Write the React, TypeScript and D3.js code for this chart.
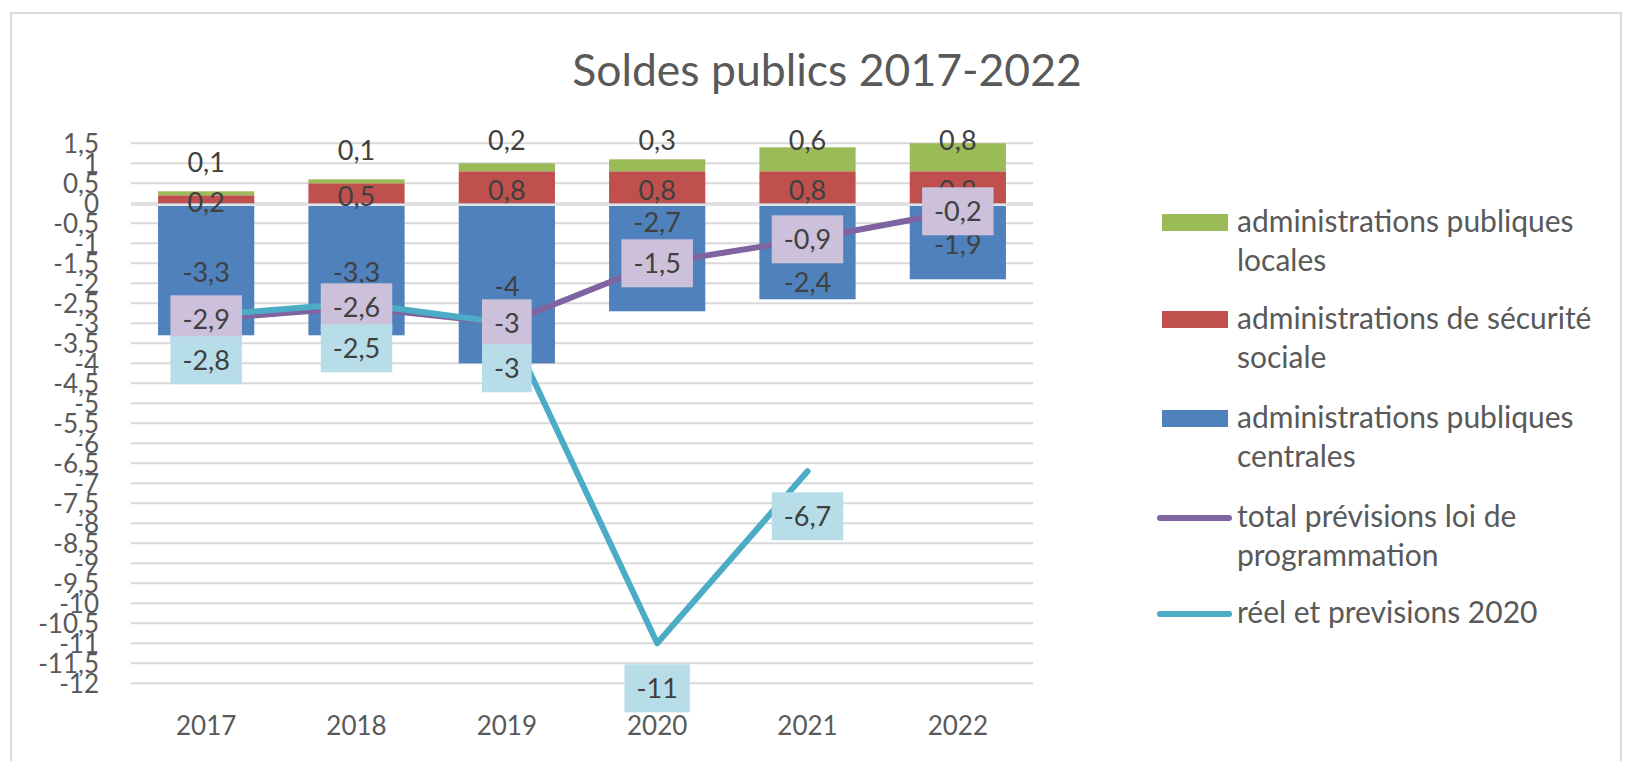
import * as d3 from 'd3';

const years = ['2017', '2018', '2019', '2020', '2021', '2022'];
const apuLocales = [0.1, 0.1, 0.2, 0.3, 0.6, 0.8];
const asso = [0.2, 0.5, 0.8, 0.8, 0.8, 0.8];
const apuCentrales = [-3.3, -3.3, -4, -2.7, -2.4, -1.9];
const totalLpfp = [-2.9, -2.6, -3, -1.5, -0.9, -0.2];
const reel2020: (number | null)[] = [-2.8, -2.5, -3, -11, -6.7, null];
// labels of the central bars were moved by hand in the original (px)
const centralesNudge = [0, 0, 0, -38, 28, 0];

const legendItems = [
  { kind: 'bar', color: '#9bbb59', lines: ['administrations publiques', 'locales'] },
  { kind: 'bar', color: '#c0504d', lines: ['administrations de sécurité', 'sociale'] },
  { kind: 'bar', color: '#4f81bd', lines: ['administrations publiques', 'centrales'] },
  { kind: 'line', color: '#8064a2', lines: ['total prévisions loi de', 'programmation'] },
  { kind: 'line', color: '#4bacc6', lines: ['réel et previsions 2020'] },
];

const W = 1634;
const H = 761;
const FONT = 'Lato, "Open Sans", sans-serif';
const FS = 26; // axis labels
const LFS = 27; // data labels
const LEG = 30; // legend
const txt = '#404040';
const axisTxt = '#595959';

const fmt = (v: number) => String(v).replace('.', ',');

let ctx: CanvasRenderingContext2D | null = null;
function textWidth(s: string) {
  if (!ctx) ctx = document.createElement('canvas').getContext('2d');
  if (!ctx) return s.length * 13;
  ctx.font = `${LFS}px Lato`;
  return ctx.measureText(s).width;
}

export default function App() {
  const x = d3.scaleBand().domain(years).range([131, 1033]).paddingInner(0.36).paddingOuter(0.18);
  const y = d3.scaleLinear().domain([-12, 1.5]).range([683.3, 143.3]);
  const yTicks = y.ticks(27);
  const cx = (i: number) => (x(years[i]) as number) + x.bandwidth() / 2;

  const line = d3
    .line<number | null>()
    .defined((d) => d != null)
    .x((_, i) => cx(i))
    .y((d) => y(d as number));

  const boxH = 48;

  return (
    <svg width={W} height={H} style={{ position: 'absolute', left: 0, top: 0, display: 'block' }} fontFamily={FONT}>
      <rect x={0} y={0} width={W} height={H} fill="#fff" />
      <rect x={11} y={13} width={1610} height={800} fill="#fff" stroke="#d9d9d9" strokeWidth={2} />
      <defs>
        <clipPath id="plot">
          <rect x={131} y={143.3} width={902} height={540} />
        </clipPath>
      </defs>

      <text x={827} y={86} textAnchor="middle" fontSize={44.5} fill={axisTxt}>
        Soldes publics 2017-2022
      </text>

      {yTicks.map((t) => (
        <line key={'g' + t} x1={131} x2={1033} y1={y(t)} y2={y(t)} stroke="#d9d9d9" strokeWidth={2} />
      ))}
      {yTicks.map((t) => (
        <text key={'t' + t} x={99} y={y(t)} dy="0.36em" textAnchor="end" fontSize={FS} fill={axisTxt}>
          {fmt(t)}
        </text>
      ))}

      <g clipPath="url(#plot)">
        {years.map((yr, i) => (
          <g key={yr}>
            <rect x={x(yr)} width={x.bandwidth()} y={y(0)} height={y(apuCentrales[i]) - y(0)} fill="#4f81bd" />
            <rect x={x(yr)} width={x.bandwidth()} y={y(asso[i])} height={y(0) - y(asso[i])} fill="#c0504d" />
            <rect
              x={x(yr)}
              width={x.bandwidth()}
              y={y(asso[i] + apuLocales[i])}
              height={y(asso[i]) - y(asso[i] + apuLocales[i])}
              fill="#9bbb59"
            />
          </g>
        ))}
      </g>
      <line x1={131} x2={1033} y1={y(0) + 1.5} y2={y(0) + 1.5} stroke="#e3e3e3" strokeWidth={2.5} />

      {years.map((yr, i) => {
        const top = y(asso[i] + apuLocales[i]);
        return (
          <g key={'bl' + yr} fontSize={LFS} fill={txt} textAnchor="middle">
            <text x={cx(i)} y={Math.max(top - 29, 140)} dy="0.36em">
              {fmt(apuLocales[i])}
            </text>
            <text x={cx(i)} y={(y(asso[i]) + y(0)) / 2 + 3} dy="0.36em">
              {fmt(asso[i])}
            </text>
            <text x={cx(i)} y={(y(apuCentrales[i]) + y(0)) / 2 + 3 + centralesNudge[i]} dy="0.36em">
              {fmt(apuCentrales[i])}
            </text>
          </g>
        );
      })}

      <path d={line(totalLpfp) || ''} fill="none" stroke="#8064a2" strokeWidth={6} strokeLinejoin="round" strokeLinecap="round" />
      <path d={line(reel2020) || ''} fill="none" stroke="#4bacc6" strokeWidth={6} strokeLinejoin="round" strokeLinecap="round" />

      {totalLpfp.map((v, i) => {
        const s = fmt(v);
        const w = textWidth(s) + 24;
        return (
          <g key={'pl' + i}>
            <rect x={cx(i) - w / 2} y={y(v) - boxH / 2} width={w} height={boxH} fill="#ccc0da" />
            <text x={cx(i)} y={y(v)} dy="0.36em" textAnchor="middle" fontSize={LFS} fill={txt}>
              {s}
            </text>
          </g>
        );
      })}
      {reel2020.map((v, i) => {
        if (v == null) return null;
        const s = fmt(v);
        const w = textWidth(s) + 24;
        const cy = y(v) + 45;
        return (
          <g key={'cl' + i}>
            <rect x={cx(i) - w / 2} y={cy - boxH / 2} width={w} height={boxH} fill="#b7dee8" />
            <text x={cx(i)} y={cy} dy="0.36em" textAnchor="middle" fontSize={LFS} fill={txt}>
              {s}
            </text>
          </g>
        );
      })}

      {years.map((yr, i) => (
        <text key={'x' + yr} x={cx(i)} y={735} textAnchor="middle" fontSize={FS} fill={axisTxt}>
          {yr}
        </text>
      ))}

      {legendItems.map((item, k) => {
        const base = [232, 329, 428, 527, 623][k];
        return (
          <g key={'lg' + k}>
            {item.kind === 'bar' ? (
              <rect x={1162} y={base - 18} width={66} height={17} fill={item.color} />
            ) : (
              <line x1={1160} x2={1229} y1={base - 9} y2={base - 9} stroke={item.color} strokeWidth={6} strokeLinecap="round" />
            )}
            <text x={1237} y={base} fontSize={LEG} fill={axisTxt}>
              {item.lines.map((l, j) => (
                <tspan key={j} x={1237} y={base + j * 39}>
                  {l}
                </tspan>
              ))}
            </text>
          </g>
        );
      })}
    </svg>
  );
}
